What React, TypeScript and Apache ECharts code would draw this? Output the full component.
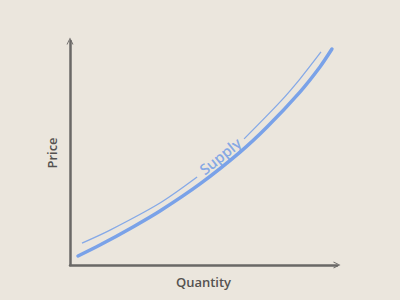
import React, { useEffect, useRef } from "react";
import * as echarts from "echarts";

// Supply curve (thick) — quantity (0-100) vs price (0-100)
const supplyQty = [3.0, 11.2, 23.6, 33.7, 48.7, 63.7, 73.8, 86.1, 93.6, 98.1];
const supplyPrice = [4.0, 8.9, 17.0, 24.1, 36.2, 50.4, 61.6, 77.2, 88.4, 96.4];

// Thin guide curve above it, broken where the label sits (null = gap)
const guideQty = [4.5, 15.0, 33.7, 47.6, null, 65.2, 78.7, 86.1, 94.0];
const guidePrice = [9.8, 15.6, 27.7, 39.3, null, 56.3, 72.8, 83.0, 95.1];

// Label anchor
const labelText = "Supply";
const labelPos = [56.2, 48.7];

const xName = "Quantity";
const yName = "Price";

const chevron = "path://M0,10 L5,0 L10,10 L8.6,10 L5,2.6 L1.4,10 Z";

export default function App() {
  const ref = useRef<HTMLDivElement>(null);
  useEffect(() => {
    if (!ref.current) return;
    const chart = echarts.init(ref.current, undefined, { renderer: "svg" });
    const axisColor = "#6a6866";
    const blue = "#7aa2e8";
    const font = "'Open Sans', 'Noto Sans', sans-serif";
    const supply = supplyQty.map((x, i) => [x, supplyPrice[i]]);
    const guide = guideQty.map((x, i) =>
      x === null ? [null, null] : [x, guidePrice[i]]
    );
    chart.setOption({
      animation: false,
      backgroundColor: "#ebe6dd",
      grid: { left: 70, right: 63, top: 41, bottom: 35 },
      xAxis: {
        type: "value",
        min: 0,
        max: 100,
        name: xName,
        nameLocation: "middle",
        nameGap: 10,
        nameTextStyle: { color: "#555250", fontSize: 13, fontWeight: 600, fontFamily: font },
        axisLine: {
          show: true,
          symbol: ["none", chevron],
          symbolSize: [12, 7],
          lineStyle: { color: axisColor, width: 2.5 },
        },
        axisTick: { show: false },
        axisLabel: { show: false },
        splitLine: { show: false },
      },
      yAxis: {
        type: "value",
        min: 0,
        max: 100,
        name: yName,
        nameLocation: "middle",
        nameRotate: 90,
        nameGap: 12,
        nameTextStyle: { color: "#555250", fontSize: 13, fontWeight: 600, fontFamily: font },
        axisLine: {
          show: true,
          symbol: ["none", chevron],
          symbolSize: [12, 7],
          lineStyle: { color: axisColor, width: 2.5 },
        },
        axisTick: { show: false },
        axisLabel: { show: false },
        splitLine: { show: false },
      },
      series: [
        {
          type: "line",
          data: supply,
          smooth: 0.3,
          showSymbol: false,
          lineStyle: { color: blue, width: 3.5, cap: "round" },
        },
        {
          type: "line",
          data: guide,
          smooth: 0.3,
          connectNulls: false,
          showSymbol: false,
          lineStyle: { color: blue, width: 1.3, opacity: 0.9 },
        },
        {
          type: "scatter",
          data: [labelPos],
          symbolSize: 0,
          itemStyle: { color: "#6c98e6" },
          label: {
            show: true,
            formatter: labelText,
            position: "inside",
            rotate: 39,
            color: "#6c98e6",
            textBorderWidth: 0,
            textBorderColor: "transparent",
            fontSize: 15,
            fontWeight: 600,
            fontFamily: font,
          },
        },
      ],
    });
    return () => chart.dispose();
  }, []);
  return (
    <div
      ref={ref}
      style={{ position: "fixed", left: 0, top: 0, width: 400, height: 300 }}
    />
  );
}
